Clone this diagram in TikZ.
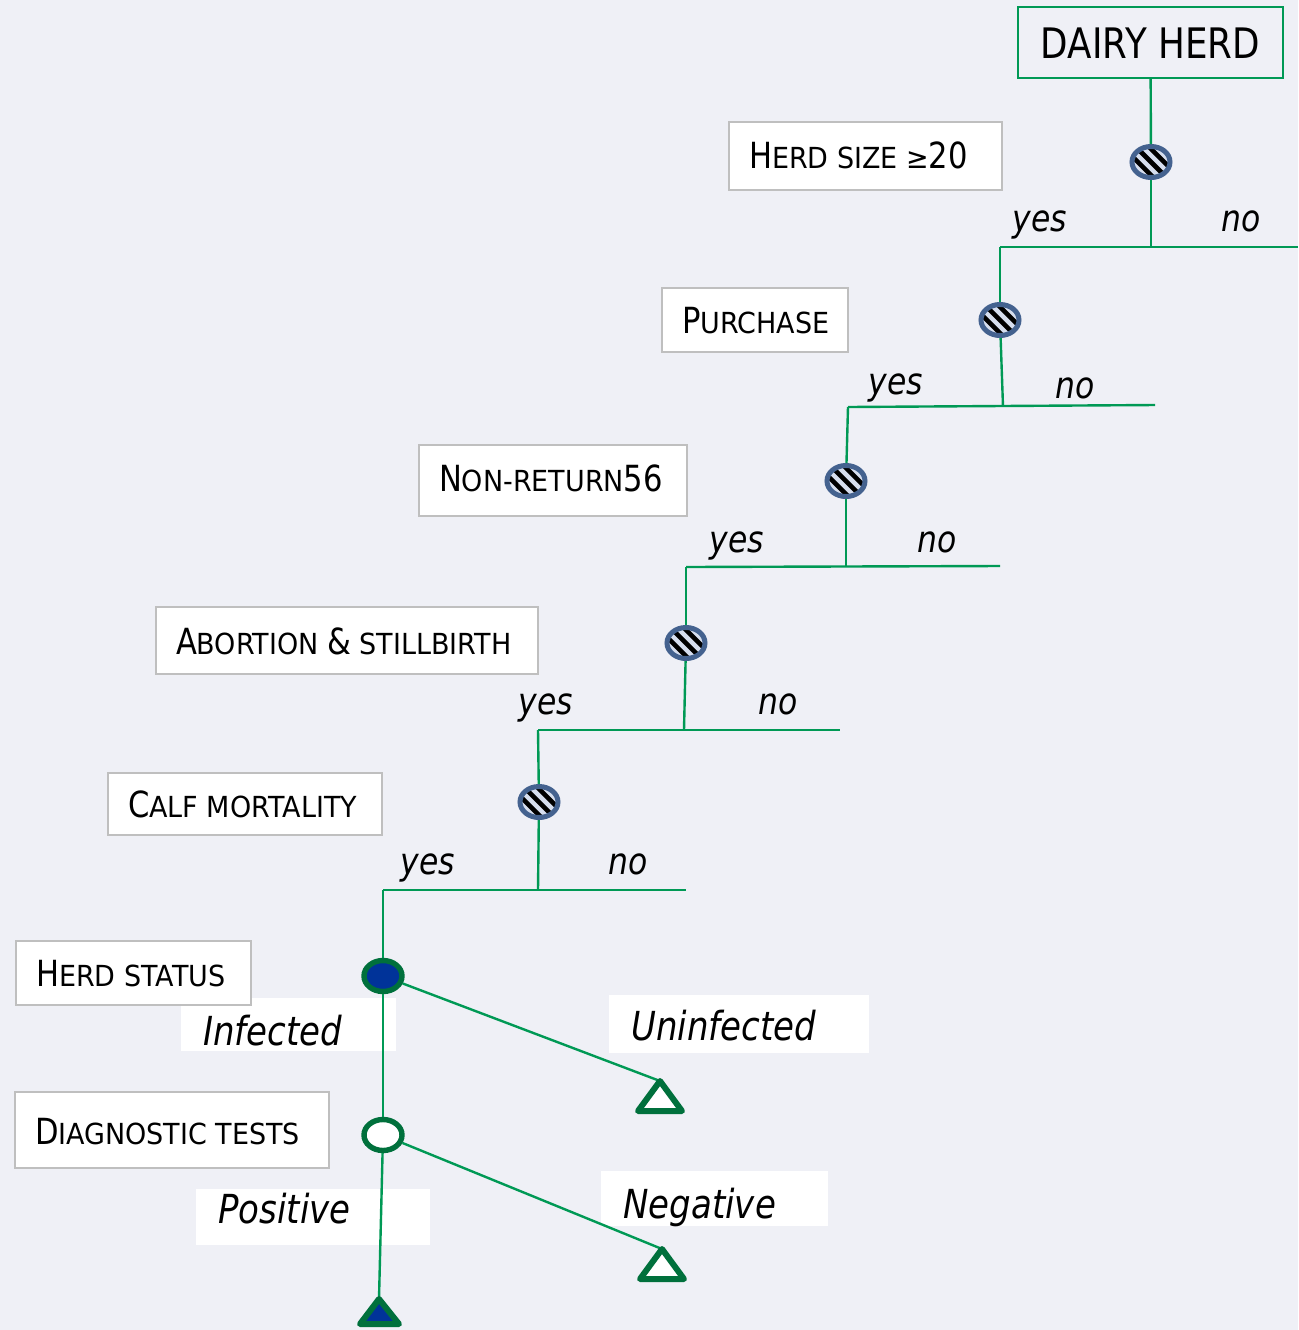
\documentclass[tikz,border=0pt]{standalone}
\usepackage{fontspec}
\setmainfont{DejaVu Sans}[FakeStretch=0.85]
\newfontfamily\scfont{DejaVu Sans}[FakeStretch=0.93]
\usetikzlibrary{shapes.geometric}
\definecolor{bgc}{RGB}{239,240,246}
\definecolor{lgreen}{RGB}{0,153,85}
\definecolor{dgreen}{RGB}{0,112,60}
\definecolor{cnode}{RGB}{68,98,143}
\definecolor{cfill}{RGB}{214,222,238}
\definecolor{dblue}{RGB}{0,51,153}
\definecolor{boxgray}{RGB}{191,191,191}
\newcommand\Lg[1]{{\fontsize{18}{20}\selectfont #1}}
\newcommand\Sm[1]{{\scfont\fontsize{14.5}{16}\selectfont #1}}
\newcommand\qt[2]{\hbox to #1{\hskip10pt\relax #2\hss}}
\newcommand\lt[2]{\hbox to #1{\hskip11pt\relax #2\hss}}
\tikzset{
 tree/.style={draw=lgreen, line width=1.2pt},
 qbox/.style={draw=boxgray, fill=white, line width=1pt, inner sep=0pt, anchor=north west},
 lbox/.style={fill=white, inner sep=0pt, anchor=north west, font=\itshape\fontsize{20}{22}\selectfont},
 yn/.style={font=\itshape\fontsize{18.5}{20}\selectfont, anchor=base, inner sep=0pt},
 chance/.style={ellipse, draw=cnode, line width=2.5pt, fill=cfill, minimum width=19pt, minimum height=15.5pt, inner sep=0pt,
   path picture={\foreach \o in {-3.3,0,3.3}{\draw[black, line width=2.3pt]
     ([shift={(\o*1pt-12pt,\o*1pt+12pt)}]path picture bounding box.center) --
     ([shift={(\o*1pt+12pt,\o*1pt-12pt)}]path picture bounding box.center);}}},
 dnode/.style={ellipse, draw=dgreen, line width=2.7pt, minimum width=19pt, minimum height=15.5pt, inner sep=0pt},
 tri/.style={draw=dgreen, line width=3pt, line join=round}
}
\begin{document}
\begin{tikzpicture}[x=0.5pt,y=-0.5pt]
\fill[bgc] (0,0) rectangle (1298,1330);
\useasboundingbox (0,0) rectangle (1298,1330);

% label boxes
\node[lbox, text height=23.5pt, text depth=3pt] (lInf) at (181,998) {\lt{107.5pt}{Infected}};
\node[lbox, text height=22.5pt, text depth=6.5pt] (lUninf) at (609,995) {\lt{130pt}{Uninfected}};
\node[lbox, text height=17pt, text depth=11pt] (lPos) at (196,1189) {\lt{117pt}{Positive}};
\node[lbox, text height=23.5pt, text depth=4pt] (lNeg) at (601,1171) {\lt{113.5pt}{Negative}};

% root
\node[draw=lgreen, line width=1pt, fill=bgc, inner sep=0pt, minimum width=132.5pt,
  text height=25.5pt, text depth=10pt, font=\fontsize{21}{24}\selectfont] (dh) at (1150.5,42.5) {DAIRY HERD};

% question boxes
\node[qbox, text height=23pt, text depth=11pt] (q1) at (728,121) {\qt{136.5pt}{\Lg{H}\Sm{ERD SIZE ≥}\Lg{20}}};
\node[qbox, text height=22.5pt, text depth=9.5pt] (q2) at (661,287) {\qt{93pt}{\Lg{P}\Sm{URCHASE}}};
\node[qbox, text height=23pt, text depth=12.5pt] (q3) at (418,444) {\qt{134pt}{\Lg{N}\Sm{ON-RETURN}\Lg{56}}};
\node[qbox, text height=23.5pt, text depth=10pt] (q4) at (155,606) {\qt{191pt}{\Lg{A}\Sm{BORTION }\Lg{\&}\Sm{ STILLBIRTH}}};
\node[qbox, text height=22pt, text depth=9pt] (q5) at (107,772) {\qt{137pt}{\Lg{C}\Sm{ALF MORTALITY}}};
\node[qbox, text height=22.5pt, text depth=9.5pt] (q6) at (15,940) {\qt{117.5pt}{\Lg{H}\Sm{ERD STATUS}}};
\node[qbox, text height=26pt, text depth=12pt] (q7) at (14,1091) {\qt{157pt}{\Lg{D}\Sm{IAGNOSTIC TESTS}}};

% chance and decision nodes
\node[chance] (c1) at (1151,162) {};
\node[chance] (c2) at (1000,320) {};
\node[chance] (c3) at (846,481) {};
\node[chance] (c4) at (686,643) {};
\node[chance] (c5) at (539,802) {};
\node[dnode, fill=dblue] (hs) at (383,976) {};
\node[dnode, fill=white] (dt) at (383,1135) {};

% branch coordinates
\coordinate (a1) at (1000,247); \coordinate (j1) at (1151,247); \coordinate (e1) at (1298,247);
\coordinate (a2) at (848,407);  \coordinate (j2) at (1003,406.5); \coordinate (e2) at (1155,405);
\coordinate (a3) at (686,567);  \coordinate (j3) at (846,566.5); \coordinate (e3) at (1000,566);
\coordinate (a4) at (538,730);  \coordinate (j4) at (684,730); \coordinate (e4) at (840,730);
\coordinate (a5) at (383,890);  \coordinate (j5) at (538,890); \coordinate (e5) at (686,890);
\coordinate (t1) at (660,1081);
\coordinate (t2) at (662,1249);
\coordinate (t3) at (379,1299);

% connectors
\draw[tree] (dh) -- (c1);
\draw[tree] (c1) -- (j1);
\draw[tree] (a1) -- (e1);
\draw[tree] (a1) -- (c2);
\draw[tree] (c2) -- (j2);
\draw[tree] (a2) -- (e2);
\draw[tree] (a2) -- (c3);
\draw[tree] (c3) -- (j3);
\draw[tree] (a3) -- (e3);
\draw[tree] (a3) -- (c4);
\draw[tree] (c4) -- (j4);
\draw[tree] (a4) -- (e4);
\draw[tree] (a4) -- (c5);
\draw[tree] (c5) -- (j5);
\draw[tree] (a5) -- (e5);
\draw[tree] (a5) -- (hs);
\draw[tree] (hs) -- (dt);
\draw[tree] (hs) -- (t1);
\draw[tree] (dt) -- (t2);
\draw[tree] (dt) -- (t3);

% terminal triangles
\draw[tri, fill=white] (t1) -- ++(-22,30) -- ++(44,0) -- cycle;
\draw[tri, fill=white] (t2) -- ++(-22,30) -- ++(44,0) -- cycle;
\draw[tri, fill=dblue] (t3) -- ++(-19,25) -- ++(39,0) -- cycle;

% yes / no labels
\node[yn] (y1) at (1040,231) {yes};  \node[yn] (n1) at (1241,231) {no};
\node[yn] (y2) at (896,394) {yes};   \node[yn] (n2) at (1075,398) {no};
\node[yn] (y3) at (737,552) {yes};   \node[yn] (n3) at (937,552) {no};
\node[yn] (y4) at (546,714) {yes};   \node[yn] (n4) at (778,714) {no};
\node[yn] (y5) at (428,874) {yes};   \node[yn] (n5) at (628,874) {no};
\end{tikzpicture}
\end{document}
